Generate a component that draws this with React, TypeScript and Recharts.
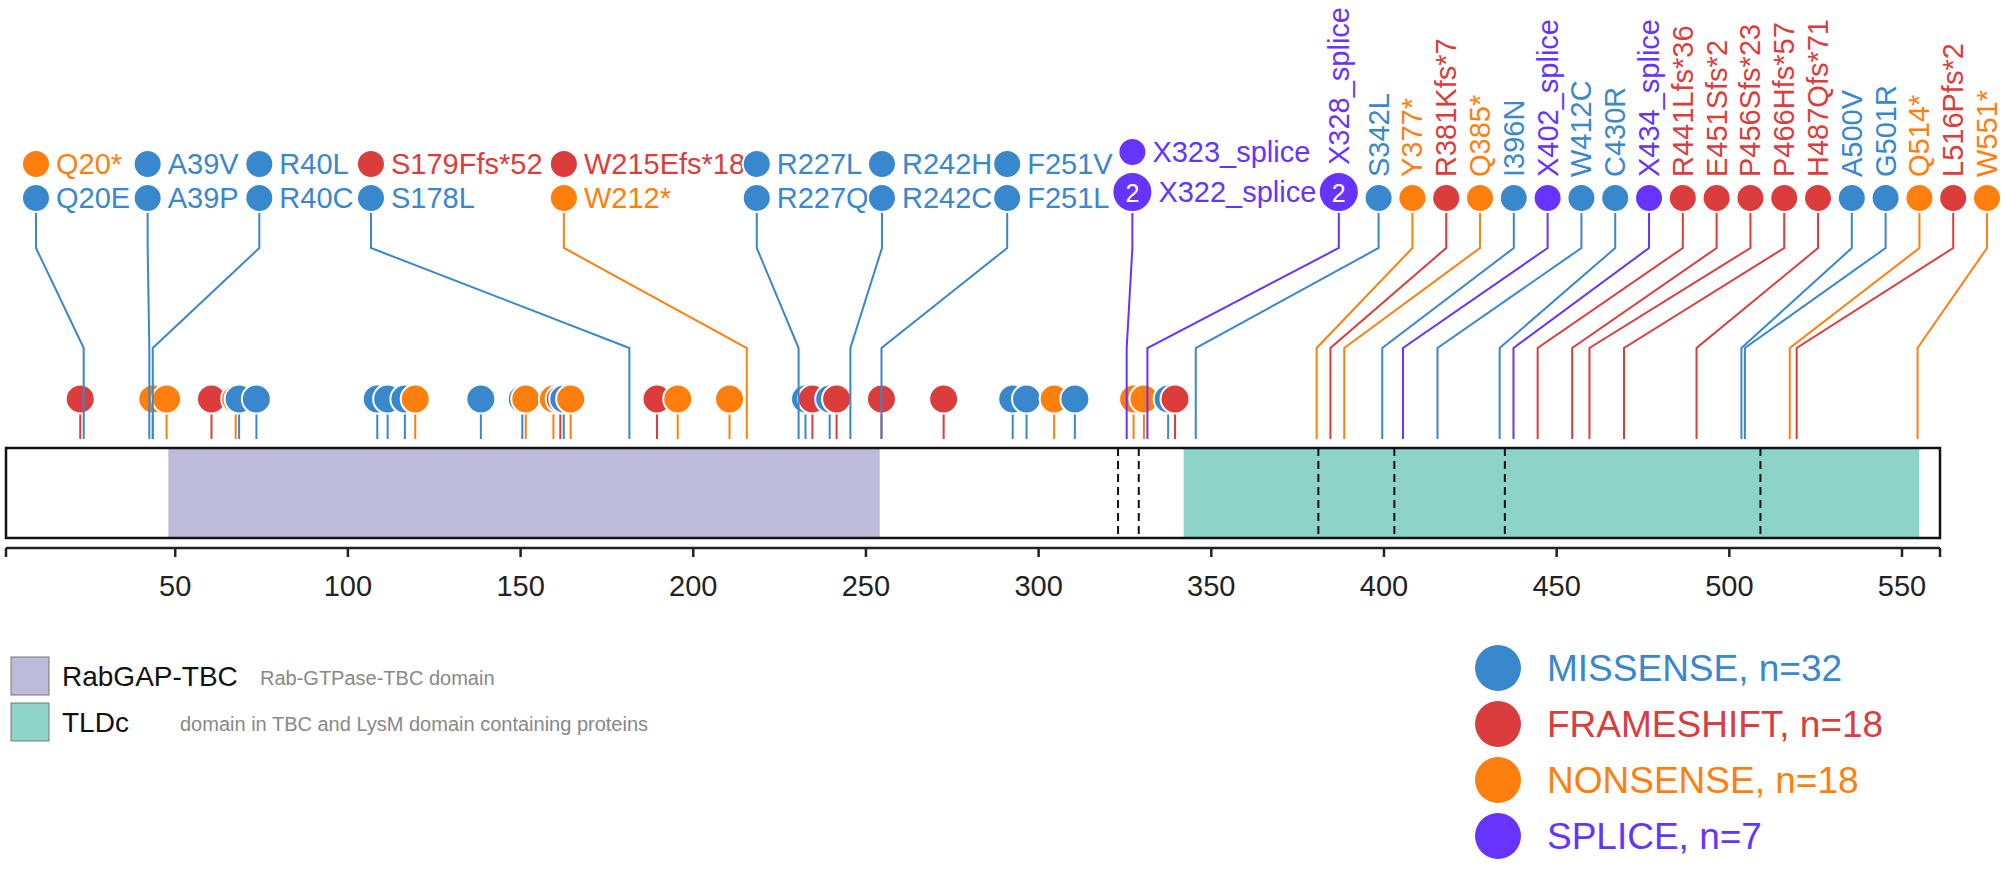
import React from 'react';
import { ComposedChart, XAxis, YAxis, Scatter, ReferenceArea, ReferenceLine } from 'recharts';

const FONT = '"Liberation Sans", Arial, Helvetica, sans-serif';

// protein + axis
const PROTEIN_START = 1;
const PROTEIN_END = 561;
const AXIS_TICKS = [1, 50, 100, 150, 200, 250, 300, 350, 400, 450, 500, 550, 561];

// domains
const domainNames = ['RabGAP-TBC', 'TLDc'];
const domainDescriptions = ['Rab-GTPase-TBC domain', 'domain in TBC and LysM domain containing proteins'];
const domainStarts = [48, 342];
const domainEnds = [254, 555];
const domainColors = ['#bebada', '#8dd3c7'];
const exonBoundaries = [323, 329, 381, 403, 435, 509];

// mutation classes
const classNames = ['MISSENSE', 'FRAMESHIFT', 'NONSENSE', 'SPLICE'];
const classCounts = [32, 18, 18, 7];
const classColors: Record<string, string> = {
  MISSENSE: '#3987CC',
  FRAMESHIFT: '#db3d3d',
  NONSENSE: '#ff7f0e',
  SPLICE: '#6633FF',
};

// unlabeled mutations (small lollipops over the protein)
const missenseOther = [65, 70, 105, 108, 113, 135, 147, 159, 229, 236, 289, 293, 307, 334];
const frameshiftOther = [19, 57, 158, 186, 231, 238, 251, 269, 336];
const nonsenseOther = [40, 44, 64, 116, 148, 156, 161, 192, 207, 301, 324, 327];

// labeled groups, stacked labels listed top to bottom; pos = connector position
const labeledGroups: { pos: number; items: [string, string, number?][] }[] = [
  { pos: 20, items: [['Q20*', 'NONSENSE'], ['Q20E', 'MISSENSE']] },
  { pos: 39, items: [['A39V', 'MISSENSE'], ['A39P', 'MISSENSE']] },
  { pos: 40, items: [['R40L', 'MISSENSE'], ['R40C', 'MISSENSE']] },
  { pos: 178, items: [['S179Ffs*52', 'FRAMESHIFT'], ['S178L', 'MISSENSE']] },
  { pos: 212, items: [['W215Efs*18', 'FRAMESHIFT'], ['W212*', 'NONSENSE']] },
  { pos: 227, items: [['R227L', 'MISSENSE'], ['R227Q', 'MISSENSE']] },
  { pos: 242, items: [['R242H', 'MISSENSE'], ['R242C', 'MISSENSE']] },
  { pos: 251, items: [['F251V', 'MISSENSE'], ['F251L', 'MISSENSE']] },
  { pos: 322, items: [['X323_splice', 'SPLICE'], ['X322_splice', 'SPLICE', 2]] },
];

// labeled single mutations with vertical labels
const verticalLabels: [string, number, string, number?][] = [
  ['X328_splice', 328, 'SPLICE', 2],
  ['S342L', 342, 'MISSENSE'],
  ['Y377*', 377, 'NONSENSE'],
  ['R381Kfs*7', 381, 'FRAMESHIFT'],
  ['Q385*', 385, 'NONSENSE'],
  ['I396N', 396, 'MISSENSE'],
  ['X402_splice', 402, 'SPLICE'],
  ['W412C', 412, 'MISSENSE'],
  ['C430R', 430, 'MISSENSE'],
  ['X434_splice', 434, 'SPLICE'],
  ['R441Lfs*36', 441, 'FRAMESHIFT'],
  ['E451Sfs*2', 451, 'FRAMESHIFT'],
  ['P456Sfs*23', 456, 'FRAMESHIFT'],
  ['P466Hfs*57', 466, 'FRAMESHIFT'],
  ['H487Qfs*71', 487, 'FRAMESHIFT'],
  ['A500V', 500, 'MISSENSE'],
  ['G501R', 501, 'MISSENSE'],
  ['Q514*', 514, 'NONSENSE'],
  ['L516Pfs*2', 516, 'FRAMESHIFT'],
  ['W551*', 551, 'NONSENSE'],
];

// ---- layout ----
const W = 2007;
const H = 876;
const PLOT_BOTTOM = 548;
const RECT_TOP = 448;
const RECT_BOTTOM = 538;
const HEAD_Y = 399;
const ELBOW_Y = 348;
const STEM_SHIFT = 3.5; // lollipops sit a few residues right of the axis in the original
const DOT_R = 14;
const BADGE_R = 20;
const LABEL_FONT = 29;

const lowerData = [
  ...missenseOther.map((p) => ({ pos: p, cls: 'MISSENSE' })),
  ...frameshiftOther.map((p) => ({ pos: p, cls: 'FRAMESHIFT' })),
  ...nonsenseOther.map((p) => ({ pos: p, cls: 'NONSENSE' })),
]
  .sort((a, b) => a.pos - b.pos)
  .map((d) => ({ ...d, x: d.pos + STEM_SHIFT, y: HEAD_Y }));

const buildColumns = () => {
  const cols: any[] = [];
  let lx = 36;
  labeledGroups.forEach((g) => {
    cols.push({ ...g, dotX: lx, vertical: false, x: g.pos + STEM_SHIFT, y: ELBOW_Y });
    const maxLen = Math.max(...g.items.map((it) => it[0].length));
    lx += 57.5 + 13.54 * maxLen;
  });
  let prevR = 0;
  verticalLabels.forEach((v, i) => {
    const r = v[3] ? BADGE_R : DOT_R;
    if (i > 0) lx += prevR + 5.8 + r;
    cols.push({ pos: v[1], items: [[v[0], v[2], v[3]]], dotX: lx, vertical: true, x: v[1] + STEM_SHIFT, y: ELBOW_Y });
    prevR = r;
  });
  return cols;
};
const columnData = buildColumns();

const LowerHead = (props: any) => {
  const { cx, cy, payload } = props;
  const color = classColors[payload.cls];
  return (
    <g>
      <line x1={cx} y1={cy} x2={cx} y2={cy + 40} stroke={color} strokeWidth={2} />
      <circle cx={cx} cy={cy} r={14.5} fill={color} stroke="#fff" strokeWidth={2} />
    </g>
  );
};

const Dot = ({ x, y, r, color, count }: any) => (
  <g>
    <circle cx={x} cy={y} r={r} fill={color} stroke="#fff" strokeWidth={2} />
    {count ? (
      <text x={x} y={y + 1} fill="#fff" fontSize={25} fontFamily={FONT} textAnchor="middle" dominantBaseline="central">
        {count}
      </text>
    ) : null}
  </g>
);

const LabelColumn = (props: any) => {
  const { cx, cy, payload } = props;
  const col = payload;
  const items = col.items;
  const bottom = items[items.length - 1];
  const color = classColors[bottom[1]];
  const base = cy - 136; // bottom edge of lowest label dot
  const elbowTop = cy - 100;
  const stemEnd = cy + 91;
  const parts: React.ReactNode[] = [];
  parts.push(
    <polyline
      key="conn"
      points={`${col.dotX},${base} ${col.dotX},${elbowTop} ${cx},${cy} ${cx},${stemEnd}`}
      fill="none"
      stroke={color}
      strokeWidth={2}
    />
  );
  let edge = base;
  for (let i = items.length - 1; i >= 0; i--) {
    const [label, cls, count] = items[i];
    const r = count ? BADGE_R : DOT_R;
    const y = edge - r;
    const c = classColors[cls];
    parts.push(<Dot key={'d' + i} x={col.dotX} y={y} r={r} color={c} count={count} />);
    if (col.vertical) {
      const ty = y - r - 7;
      parts.push(
        <text
          key={'t' + i}
          x={col.dotX}
          y={ty}
          transform={`rotate(-90 ${col.dotX} ${ty})`}
          fill={c}
          fontSize={LABEL_FONT}
          fontFamily={FONT}
          textAnchor="start"
          dominantBaseline="central"
        >
          {label}
        </text>
      );
    } else {
      parts.push(
        <text
          key={'t' + i}
          x={col.dotX + r + 6}
          y={y}
          fill={c}
          fontSize={LABEL_FONT}
          fontFamily={FONT}
          dominantBaseline="central"
        >
          {label}
        </text>
      );
    }
    edge = y - r - 6;
  }
  return <g>{parts}</g>;
};

const Legends = () => (
  <svg width={W} height={H} style={{ position: 'absolute', left: 0, top: 0, pointerEvents: 'none' }}>
    {domainNames.map((name, i) => (
      <g key={name}>
        <rect x={11} y={657 + i * 46} width={38} height={38} fill={domainColors[i]} stroke="#777" strokeWidth={1} />
        <text x={62} y={676 + i * 46} fontSize={28} fontFamily={FONT} fill="#111" dominantBaseline="central">
          {name}
        </text>
        <text
          x={i === 0 ? 260 : 180}
          y={678 + i * 46}
          fontSize={20}
          fontFamily={FONT}
          fill="#888"
          dominantBaseline="central"
        >
          {domainDescriptions[i]}
        </text>
      </g>
    ))}
    {classNames.map((name, i) => (
      <g key={name}>
        <circle cx={1498} cy={668 + i * 56} r={23} fill={classColors[name]} />
        <text
          x={1547}
          y={668 + i * 56}
          fontSize={37}
          fontFamily={FONT}
          fill={classColors[name]}
          dominantBaseline="central"
        >
          {`${name}, n=${classCounts[i]}`}
        </text>
      </g>
    ))}
  </svg>
);

export default function App() {
  return (
    <div style={{ position: 'absolute', left: 0, top: 0, width: W, height: H, background: '#fff' }}>
      <ComposedChart width={W} height={H} margin={{ top: 0, right: 67, bottom: 0, left: 6 }}>
        <XAxis
          type="number"
          dataKey="x"
          domain={[PROTEIN_START, PROTEIN_END]}
          ticks={AXIS_TICKS}
          interval={0}
          height={H - PLOT_BOTTOM}
          tickFormatter={(v: number) => (v === PROTEIN_START || v === PROTEIN_END ? '' : String(v))}
          axisLine={{ stroke: '#222', strokeWidth: 2.5 }}
          tickLine={{ stroke: '#222', strokeWidth: 2.5 }}
          tickSize={9}
          tickMargin={18}
          tick={{ fontSize: 29, fill: '#222', fontFamily: FONT }}
        />
        <YAxis type="number" dataKey="y" domain={[0, PLOT_BOTTOM]} reversed hide />
        <ReferenceArea x1={PROTEIN_START} x2={PROTEIN_END} y1={RECT_TOP} y2={RECT_BOTTOM} fill="#fff" fillOpacity={1} stroke="none" />
        {domainNames.map((n, i) => (
          <ReferenceArea
            key={n}
            x1={domainStarts[i]}
            x2={domainEnds[i]}
            y1={RECT_TOP}
            y2={RECT_BOTTOM}
            fill={domainColors[i]}
            fillOpacity={1}
            stroke="none"
          />
        ))}
        {exonBoundaries.map((b) => (
          <ReferenceLine
            key={b}
            segment={[
              { x: b, y: RECT_TOP },
              { x: b, y: RECT_BOTTOM },
            ]}
            stroke="#111"
            strokeWidth={2}
            strokeDasharray="8 5"
          />
        ))}
        <ReferenceArea
          x1={PROTEIN_START}
          x2={PROTEIN_END}
          y1={RECT_TOP}
          y2={RECT_BOTTOM}
          fill="none"
          stroke="#111"
          strokeWidth={2.5}
        />
        <Scatter data={lowerData} shape={LowerHead} isAnimationActive={false} />
        <Scatter data={columnData} shape={LabelColumn} isAnimationActive={false} />
      </ComposedChart>
      <Legends />
    </div>
  );
}
